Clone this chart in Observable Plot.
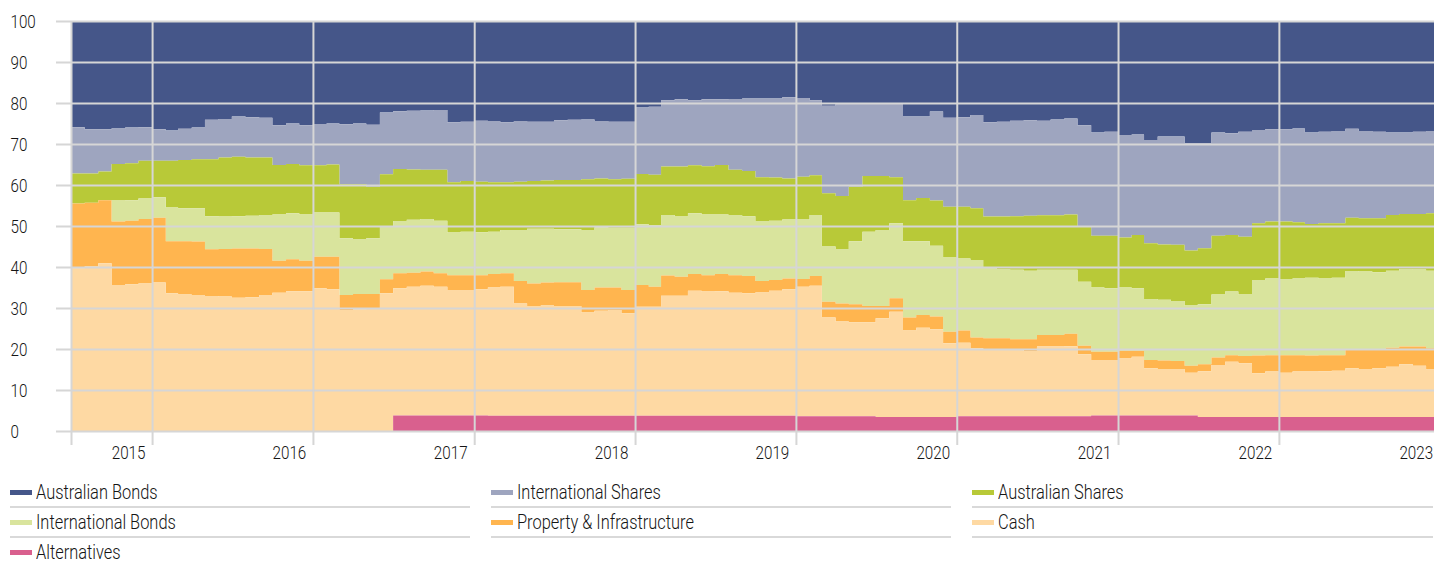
<!DOCTYPE html>
<html><head><meta charset="utf-8">
<script src="https://cdn.jsdelivr.net/npm/d3@7"></script>
<script src="https://cdn.jsdelivr.net/npm/@observablehq/plot@0.6"></script>
<style>
body{margin:0;background:#fff;font-family:Roboto,"Liberation Sans",sans-serif;font-weight:300;color:#151515}
#chart svg{display:block}
.legend{display:grid;grid-template-columns:460px 460px 461px;column-gap:21px;margin:8px 0 0 10px}
.item{height:28px;display:flex;align-items:center;font-size:20px;line-height:1;border-bottom:2px solid #d9d9d9;white-space:nowrap;overflow:visible}
.item.nob{border-bottom:none}
.sw{width:22px;height:5px;margin-right:4px;flex:none}
.lbl{display:inline-block;transform:scaleX(0.82);transform-origin:0 50%}
</style></head><body>
<div id="chart"></div>
<div class="legend" id="legend"></div>
<script>
// Monthly categories: Jul 2014 .. Dec 2022
const months = d3.utcMonth.range(new Date(Date.UTC(2014, 6, 1)), new Date(Date.UTC(2023, 0, 1)));

const seriesNames = ["Australian Bonds", "International Shares", "Australian Shares", "International Bonds", "Property & Infrastructure", "Cash", "Alternatives"];
const stackOrder = ["Alternatives", "Cash", "Property & Infrastructure", "International Bonds", "Australian Shares", "International Shares", "Australian Bonds"];
const seriesColors = ["#455689", "#9ea5bf", "#b8c938", "#d9e49d", "#ffb54f", "#fed9a3", "#d9608e"];

const alternatives = [
0,0,0,0,0,0,0,0,0,0, 0,0,0,0,0,0,0,0,0,0, 0,0,0,0,3.8,3.8,3.8,3.8,3.8,3.8,
3.8,3.7,3.7,3.7,3.7,3.7,3.7,3.7,3.7,3.7, 3.7,3.7,3.7,3.7,3.7,3.7,3.7,3.7,3.7,3.7,
3.7,3.7,3.7,3.7,3.6,3.6,3.6,3.6,3.6,3.6, 3.4,3.4,3.4,3.4,3.4,3.4,3.6,3.6,3.6,3.6,
3.6,3.6,3.6,3.6,3.6,3.6,3.8,3.8,3.8,3.8, 3.8,3.8,3.8,3.8,3.4,3.4,3.4,3.4,3.4,3.4,
3.4,3.4,3.4,3.4,3.4,3.4,3.4,3.4,3.4,3.4, 3.4,3.4];
const cash = [
39.7,40.1,40.9,35.6,35.8,36.0,36.2,33.6,33.3,33.2, 32.9,32.8,32.5,32.6,33.2,33.7,34.1,34.1,34.8,34.6,
29.5,29.7,30.0,33.6,31.0,31.4,31.6,31.4,30.6,30.6, 30.8,31.3,31.5,27.4,26.8,26.9,26.8,26.8,25.2,25.6,
25.8,25.0,26.6,26.6,29.3,29.3,30.5,30.3,30.4,30.0, 29.9,30.1,30.5,30.9,31.6,31.8,24.1,23.1,22.9,22.9,
24.1,25.7,21.1,21.8,21.4,18.0,17.9,16.6,16.3,16.2, 16.2,15.9,17.0,17.0,17.1,15.1,13.5,13.5,13.9,14.3,
11.5,11.3,11.3,10.4,11.2,12.7,13.5,13.1,10.7,11.1, 10.8,11.1,11.1,11.2,11.3,11.9,11.7,11.9,12.3,12.9,
12.5,11.6];
const property = [
15.8,15.6,15.4,15.5,15.5,15.7,15.8,12.7,13.0,13.0, 11.4,11.6,12.0,11.9,11.2,7.8,7.8,7.4,7.7,7.9,
3.7,3.7,3.4,3.4,3.7,3.4,3.5,3.3,3.6,3.6, 3.4,3.3,3.3,5.5,5.5,5.6,5.8,5.8,5.5,5.7,
5.5,5.7,5.3,4.9,4.9,4.6,4.1,4.0,4.2,4.3, 4.2,2.8,2.6,2.6,1.9,2.4,3.8,4.4,4.4,4.0,
3.0,3.3,3.2,3.1,3.1,2.8,3.0,2.6,2.7,2.8, 2.6,2.9,2.8,2.8,3.0,2.1,2.0,2.0,1.9,1.5,
2.0,2.1,2.0,1.7,1.7,1.8,1.6,1.8,4.3,4.0, 4.3,4.0,3.9,3.9,3.8,4.7,4.9,4.7,4.6,4.3,
4.7,5.2];
const intlBonds = [
0,0,0,5.1,5.0,5.0,5.0,8.2,8.0,8.1, 8.1,7.9,7.9,8.0,8.3,11.3,11.2,11.3,10.8,10.8,
13.8,13.4,13.6,12.8,12.7,12.9,12.8,12.8,10.4,10.6, 10.5,10.3,10.5,12.4,13.3,13.1,12.9,12.9,14.6,14.7,
14.6,15.2,14.8,15.0,14.8,14.7,14.8,14.8,14.5,14.7, 14.6,14.6,14.5,14.4,14.5,14.9,13.5,13.3,15.4,18.1,
18.5,18.3,18.6,18.0,17.3,18.1,17.6,18.9,17.2,16.9, 16.9,16.7,15.9,15.9,15.6,15.6,15.7,15.5,15.4,15.2,
14.9,14.8,14.6,14.7,14.6,15.4,15.5,15.0,18.4,18.7, 18.6,18.7,19.0,18.7,18.9,19.0,18.9,18.7,18.8,18.9,
18.8,18.9];
const ausShares = [
7.3,7.1,7.0,8.9,9.0,9.2,8.9,11.4,11.8,12.0, 13.9,14.4,14.5,14.2,14.0,12.1,12.0,12.0,11.5,11.7,
13.2,13.4,12.6,12.8,12.7,12.3,12.0,12.4,12.3,12.4, 12.3,12.1,11.7,11.8,11.7,11.8,12.0,12.0,12.4,11.9,
11.8,11.9,12.3,12.3,11.8,12.2,11.7,11.8,12.1,11.0, 11.0,10.7,10.5,10.0,10.4,9.7,13.0,12.9,13.3,13.6,
13.2,11.2,10.0,10.5,11.0,12.4,12.6,12.6,12.5,12.8, 13.1,13.4,13.3,13.3,13.5,13.4,12.6,12.8,12.2,13.0,
13.6,13.5,13.7,13.4,13.7,14.3,13.8,14.1,13.9,13.9, 14.0,13.7,13.1,13.5,13.3,13.0,13.0,13.2,13.6,13.4,
13.5,14.0];
const intlShares = [
11.3,10.8,10.3,8.7,8.7,8.2,7.7,7.4,7.6,7.7, 9.6,9.4,9.8,9.8,9.7,9.7,9.9,9.8,10.1,10.0,
14.6,14.8,15.1,15.1,14.1,14.3,14.5,14.6,14.6,14.4, 14.9,14.9,14.6,14.8,14.4,14.3,14.6,14.7,14.6,14.0,
14.0,13.9,16.2,16.6,16.2,16.4,15.9,16.3,16.0,17.3, 17.7,19.2,19.3,19.8,19.2,18.3,21.3,22.7,20.4,17.8,
17.8,18.1,20.4,19.9,21.7,21.7,21.8,22.8,23.0,23.1, 23.3,23.3,23.1,23.4,23.4,24.8,25.2,25.4,25.0,24.5,
25.2,26.3,26.4,26.2,25.6,25.2,24.8,25.6,22.7,22.5, 22.5,22.9,22.3,22.3,22.5,21.7,21.3,21.1,20.1,19.9,
20.1,20.1];
const ausBonds = [
25.9,26.4,26.4,26.2,26.0,25.9,26.4,26.7,26.3,26.0, 24.1,23.9,23.3,23.5,23.6,25.4,25.0,25.4,25.1,25.0,
25.2,25.0,25.3,22.3,22.0,21.9,21.8,21.7,24.7,24.6, 24.3,24.4,24.7,24.4,24.6,24.6,24.2,24.1,24.0,24.4,
24.6,24.6,21.1,20.9,19.3,19.1,19.3,19.1,19.1,19.0, 18.9,18.9,18.9,18.6,18.8,19.3,20.7,20.0,20.0,20.0,
20.0,20.0,23.3,23.3,22.1,23.6,23.5,22.9,24.7,24.6, 24.3,24.2,24.3,24.0,23.8,25.4,27.2,27.0,27.8,27.7,
29.0,28.2,28.2,29.8,29.8,27.2,27.4,27.0,26.6,26.4, 26.4,26.2,27.2,27.0,26.8,26.3,26.8,27.0,27.2,27.2,
27.0,26.8];

const yTicks = [0, 10, 20, 30, 40, 50, 60, 70, 80, 90, 100];
const yearLabels = ["2015", "2016", "2017", "2018", "2019", "2020", "2021", "2022", "2023"];

// ---- build long table (step-after needs a closing point after the last month)
const valuesBySeries = {
  "Australian Bonds": ausBonds, "International Shares": intlShares, "Australian Shares": ausShares,
  "International Bonds": intlBonds, "Property & Infrastructure": property, "Cash": cash, "Alternatives": alternatives
};
const table = [];
const xs = [...months, d3.utcMonth.offset(months[months.length - 1], 1)];
xs.forEach((date, i) => {
  const k = Math.min(i, months.length - 1);
  for (const s of seriesNames) table.push({date, series: s, value: valuesBySeries[s][k]});
});

const xEnd = new Date(Date.UTC(2022, 11, 19));
const yearStarts = yearLabels.map(y => new Date(Date.UTC(+y, 0, 1)));
const vGrid = [months[0], ...yearStarts.filter(d => d < xEnd)];
const gridColor = "#d6d6d6";
const textColor = "#151515";

const chart = Plot.plot({
  width: 1434, height: 470,
  marginLeft: 71, marginRight: 0, marginTop: 21, marginBottom: 39,
  style: {fontFamily: 'Roboto,"Liberation Sans",sans-serif', fontWeight: 300, fontSize: "19px", color: textColor, background: "#fff"},
  x: {type: "utc", domain: [months[0], xEnd]},
  y: {domain: [0, 100]},
  color: {domain: seriesNames, range: seriesColors},
  marks: [
    Plot.areaY(table, {x: "date", y: "value", z: "series", fill: "series", order: stackOrder, curve: "step-after", clip: true}),
    Plot.ruleY(yTicks, {stroke: gridColor, strokeWidth: 2, insetLeft: -15}),
    Plot.ruleX(vGrid, {stroke: gridColor, strokeWidth: 2, insetBottom: -14}),
    Plot.axisY({ticks: yTicks, label: null, tickSize: 0, tickPadding: 61, textAnchor: "start", fontSize: 19, fill: textColor}),
    Plot.axisX({ticks: [], label: null, tickSize: 0, tickFormat: null}),
    Plot.text(yearStarts, {x: d => d, frameAnchor: "bottom", lineAnchor: "middle", dy: 21, dx: -24, text: (d, i) => yearLabels[i], fontSize: 19, fill: textColor})
  ]
});
// condense the glyphs horizontally (the reference uses a condensed typeface)
chart.querySelectorAll("text").forEach(t => {
  const tr = t.getAttribute("transform");
  if (tr) {
    t.setAttribute("transform", tr + " scale(0.8,1)");
  } else {
    const x = +(t.getAttribute("x") || 0), y = +(t.getAttribute("y") || 0);
    t.removeAttribute("x"); t.removeAttribute("y");
    t.setAttribute("transform", `translate(${x},${y}) scale(0.8,1)`);
  }
});
document.getElementById("chart").appendChild(chart);

// ---- legend
const legendOrder = ["Australian Bonds", "International Shares", "Australian Shares", "International Bonds", "Property & Infrastructure", "Cash", "Alternatives"];
const legend = document.getElementById("legend");
legendOrder.forEach((name, i) => {
  const el = document.createElement("div");
  el.className = "item" + (i >= 6 ? " nob" : "");
  const sw = document.createElement("span");
  sw.className = "sw";
  sw.style.background = seriesColors[seriesNames.indexOf(name)];
  const t = document.createElement("span");
  t.className = "lbl";
  t.textContent = name;
  el.appendChild(sw); el.appendChild(t);
  legend.appendChild(el);
});
</script>
</body></html>
